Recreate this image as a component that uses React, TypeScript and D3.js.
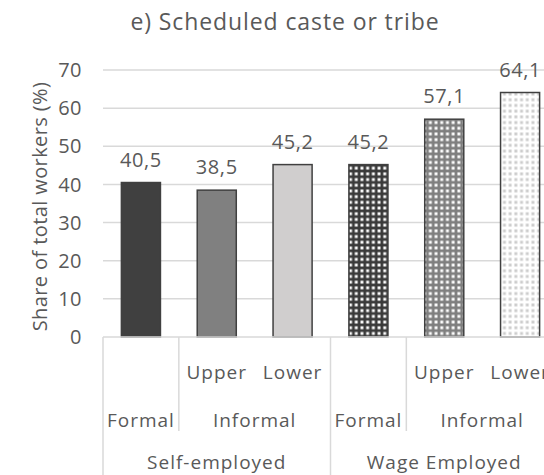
import React from "react";
import * as d3 from "d3";

const categories = ["SE Formal", "SE Upper", "SE Lower", "WE Formal", "WE Upper", "WE Lower"];
const values = [40.5, 38.5, 45.2, 45.2, 57.1, 64.1];
const valueLabels = ["40,5", "38,5", "45,2", "45,2", "57,1", "64,1"];
const level1Labels = ["", "Upper", "Lower", "", "Upper", "Lower"];
const level2Groups = [
  { label: "Formal", from: 0, to: 0 },
  { label: "Informal", from: 1, to: 2 },
  { label: "Formal", from: 3, to: 3 },
  { label: "Informal", from: 4, to: 5 },
];
const level3Groups = [
  { label: "Self-employed", from: 0, to: 2 },
  { label: "Wage Employed", from: 3, to: 5 },
];
const yTicks = [0, 10, 20, 30, 40, 50, 60, 70];
const title = "e) Scheduled caste or tribe";
const yTitle = "Share of total workers (%)";

const W = 544;
const H = 475;
const FONT = "'Open Sans', sans-serif";
const TXT = "#595959";
const GRID = "#d9d9d9";

export default function App() {
  const left = 103;
  const right = 558;
  const y0 = 337;
  const yTop = 70;
  const x = d3.scaleBand<string>().domain(categories).range([left, right]).paddingInner(0.485).paddingOuter(0.2425);
  const y = d3.scaleLinear().domain([0, 70]).range([y0, yTop]);
  const step = x.step();
  const edge = (i: number) => left + i * step;
  const fills = ["#404040", "#808080", "#d0cece", "url(#pDark)", "url(#pMid)", "url(#pLight)"];

  const row1 = 372;
  const row2 = 420;
  const row3 = 462;

  const seps: { x: number; y2: number }[] = [
    { x: edge(0), y2: H },
    { x: edge(1), y2: 431 },
    { x: edge(3), y2: H },
    { x: edge(4), y2: 431 },
    { x: edge(6), y2: H },
  ];

  const catStyle = { fontSize: 19, letterSpacing: 1 } as const;

  return (
    <svg width={W} height={H} style={{ position: "absolute", left: 0, top: 0, background: "#fff" }} fontFamily={FONT}>
      <defs>
        <pattern id="pDark" width={5.7} height={5.7} patternUnits="userSpaceOnUse">
          <rect width={5.7} height={5.7} fill="#3a3a3a" />
          <rect x={1.4} y={1.4} width={2.9} height={2.9} fill="#ffffff" />
        </pattern>
        <pattern id="pMid" width={5.7} height={5.7} patternUnits="userSpaceOnUse">
          <rect width={5.7} height={5.7} fill="#7f7f7f" />
          <rect x={1.4} y={1.4} width={2.9} height={2.9} fill="#ffffff" />
        </pattern>
        <pattern id="pLight" width={5.7} height={5.7} patternUnits="userSpaceOnUse">
          <rect width={5.7} height={5.7} fill="#ffffff" />
          <rect x={1.4} y={1.4} width={2.9} height={2.9} fill="#cccccc" />
        </pattern>
      </defs>
      <rect width={W} height={H} fill="#fff" />
      <text x={285} y={30} textAnchor="middle" fontSize={23} letterSpacing={0.9} fill={TXT}>{title}</text>

      {yTicks.map((t) => (
        <g key={t}>
          {t > 0 && <line x1={left} x2={right} y1={y(t)} y2={y(t)} stroke={GRID} strokeWidth={1.5} />}
          <text x={82} y={y(t)} dy="0.36em" textAnchor="end" fontSize={20} letterSpacing={0.5} fill={TXT}>{t}</text>
        </g>
      ))}
      <text transform={`translate(40,${(y0 + yTop) / 2 + 3}) rotate(-90)`} textAnchor="middle" dy="0.35em" fontSize={20} letterSpacing={0.4} fill={TXT}>{yTitle}</text>

      {categories.map((c, i) => (
        <g key={c}>
          <rect x={x(c)} y={y(values[i])} width={x.bandwidth()} height={y0 - y(values[i])} fill={fills[i]} stroke="#404040" strokeWidth={1.5} />
          <text x={(x(c) as number) + x.bandwidth() / 2} y={y(values[i]) - 16} textAnchor="middle" fontSize={20} letterSpacing={0.6} fill={TXT}>{valueLabels[i]}</text>
        </g>
      ))}

      <line x1={left} x2={right} y1={y0} y2={y0} stroke={GRID} strokeWidth={1.5} />
      {seps.map((s, i) => (
        <line key={i} x1={s.x} x2={s.x} y1={y0} y2={s.y2} stroke={GRID} strokeWidth={1.5} />
      ))}

      {level1Labels.map((l, i) => (
        l ? <text key={i} x={edge(i) + step / 2} y={row1} dy="0.35em" textAnchor="middle" {...catStyle} fill={TXT}>{l}</text> : null
      ))}
      {level2Groups.map((g, i) => (
        <text key={i} x={(edge(g.from) + edge(g.to + 1)) / 2} y={row2} dy="0.35em" textAnchor="middle" {...catStyle} fill={TXT}>{g.label}</text>
      ))}
      {level3Groups.map((g, i) => (
        <text key={i} x={(edge(g.from) + edge(g.to + 1)) / 2} y={row3} dy="0.35em" textAnchor="middle" {...catStyle} fill={TXT}>{g.label}</text>
      ))}
    </svg>
  );
}
